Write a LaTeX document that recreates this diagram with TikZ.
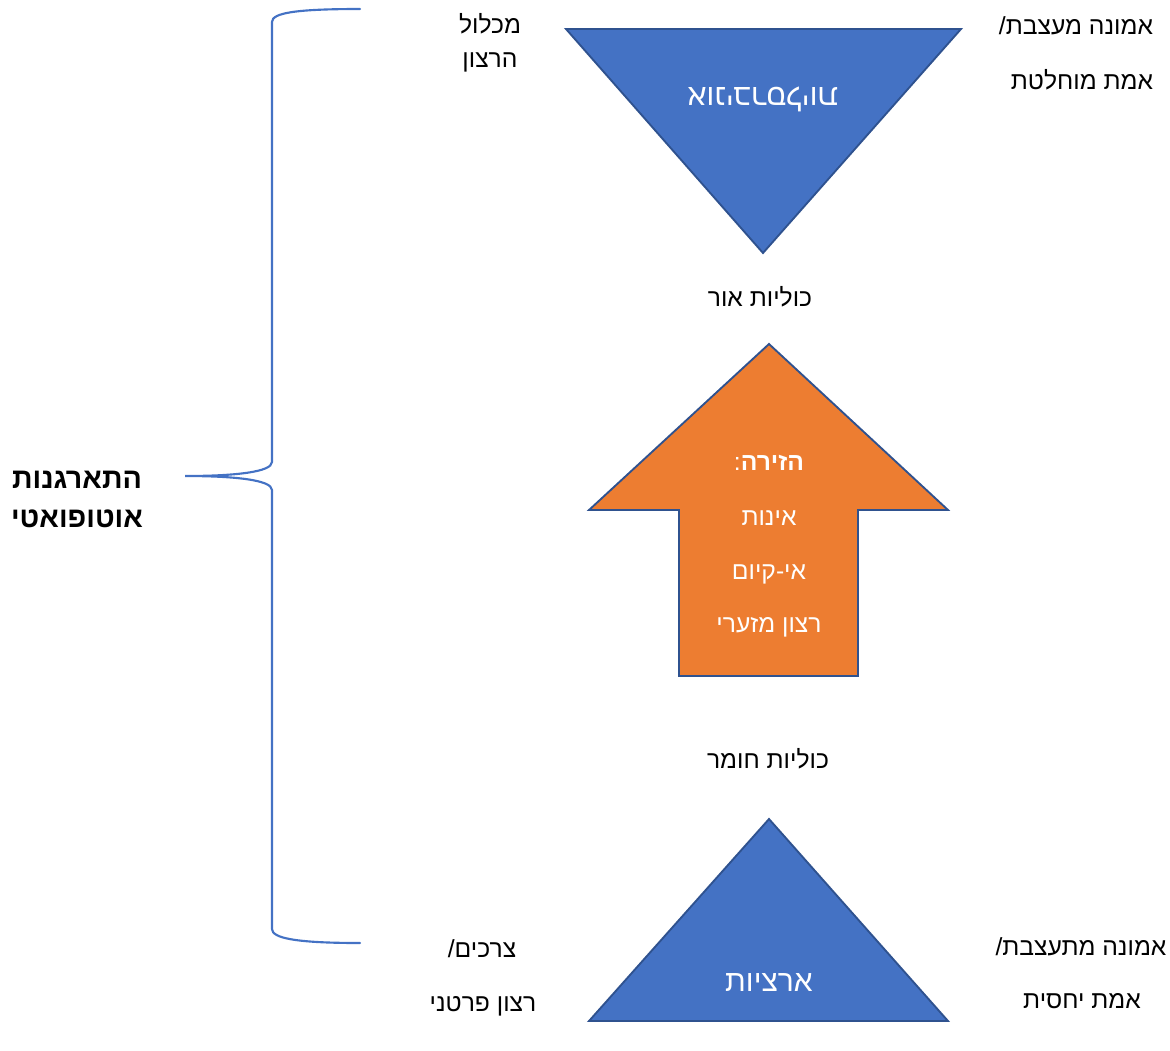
\documentclass[tikz,border=0pt]{standalone}
\usepackage{fontspec}
\setmainfont[Script=Hebrew]{Liberation Sans}
\TeXXeTstate=1
\usetikzlibrary{positioning}
\definecolor{shapeblue}{HTML}{4472C4}
\definecolor{shapeorange}{HTML}{ED7D31}
\definecolor{edgeblue}{HTML}{2F528F}
\newcommand{\heb}[1]{\beginR #1\endR}
\tikzset{
note/.style={
	text=black,
	font=\fontsize{18.5}{22}\selectfont,
	text height=0.55em,
	text depth=0pt,
	inner sep=0pt
},
inside/.style={
	note,
	text=white
},
bigin/.style={
	inside,
	font=\fontsize{22.5}{26}\selectfont
},
title/.style={
	note,
	font=\bfseries\fontsize{21.5}{26}\selectfont
},
block/.style={
	draw=edgeblue,
	line width=1.4pt,
	line join=miter
},
brace/.style={
	draw=shapeblue,
	line width=1.6pt,
	line cap=round
}
}
\begin{document}
\begin{tikzpicture}[x=0.75pt, y=-0.75pt]
\useasboundingbox (0,0) rectangle (1170,1050);
% ===== Shapes (centre column) =====
\draw [block, fill=shapeblue]   (566,29) -- (961,29) -- (763,253) -- cycle;
\draw [block, fill=shapeorange] (769,344) -- (948,510) -- (858,510) -- (858,676)
	-- (679,676) -- (679,510) -- (589,510) -- cycle;
\draw [block, fill=shapeblue]   (769,819) -- (948,1021) -- (589,1021) -- cycle;
% ===== Brace on the left =====
\draw [brace] (360,9) .. controls (295,9) and (272,13) .. (272,22) -- (272,462)
	.. controls (272,472) and (235,476) .. (185,476)
	.. controls (235,476) and (272,480) .. (272,490) -- (272,929)
	.. controls (272,938) and (295,943) .. (360,943);

% ===== Texts inside the shapes =====
\node (univ)  [bigin, rotate=180] at (763,91)  {\heb{אוניברסליות}};
\node (arena) [inside]            at (769,467) {\heb{\textbf{הזירה}:}};
\node (nothing) [inside]          at (769,522) {\heb{אינות}};
\node (nonex) [inside]            at (769,576) {\heb{אי-קיום}};
\node (minw)  [inside]            at (769,629) {\heb{רצון מזערי}};
\node (earth) [bigin]             at (769,988) {\heb{ארציות}};

% ===== Texts between the shapes =====
\node (light)  [note] at (760,303) {\heb{כוליות אור}};
\node (matter) [note] at (768,765) {\heb{כוליות חומר}};

% ===== Side texts, top =====
\node (whole1) [note] at (490,30)  {\heb{מכלול}};
\node (whole2) [note] at (490,64)  {\heb{הרצון}};
\node (faith1) [note] at (1076,31) {\heb{אמונה מעצבת/}};
\node (faith2) [note] at (1082,86) {\heb{אמת מוחלטת}};
% ===== Side texts, bottom =====
\node (needs1) [note] at (482,954)  {\heb{צרכים/}};
\node (needs2) [note] at (483,1008) {\heb{רצון פרטני}};
\node (belief1) [note] at (1081,952) {\heb{אמונה מתעצבת/}};
\node (belief2) [note] at (1082,1005) {\heb{אמת יחסית}};

% ===== Brace title =====
\node (org1) [title] at (77,485) {\heb{התארגנות}};
\node (org2) [title] at (77,524) {\heb{אוטופואטי}};
\end{tikzpicture}
\end{document}
